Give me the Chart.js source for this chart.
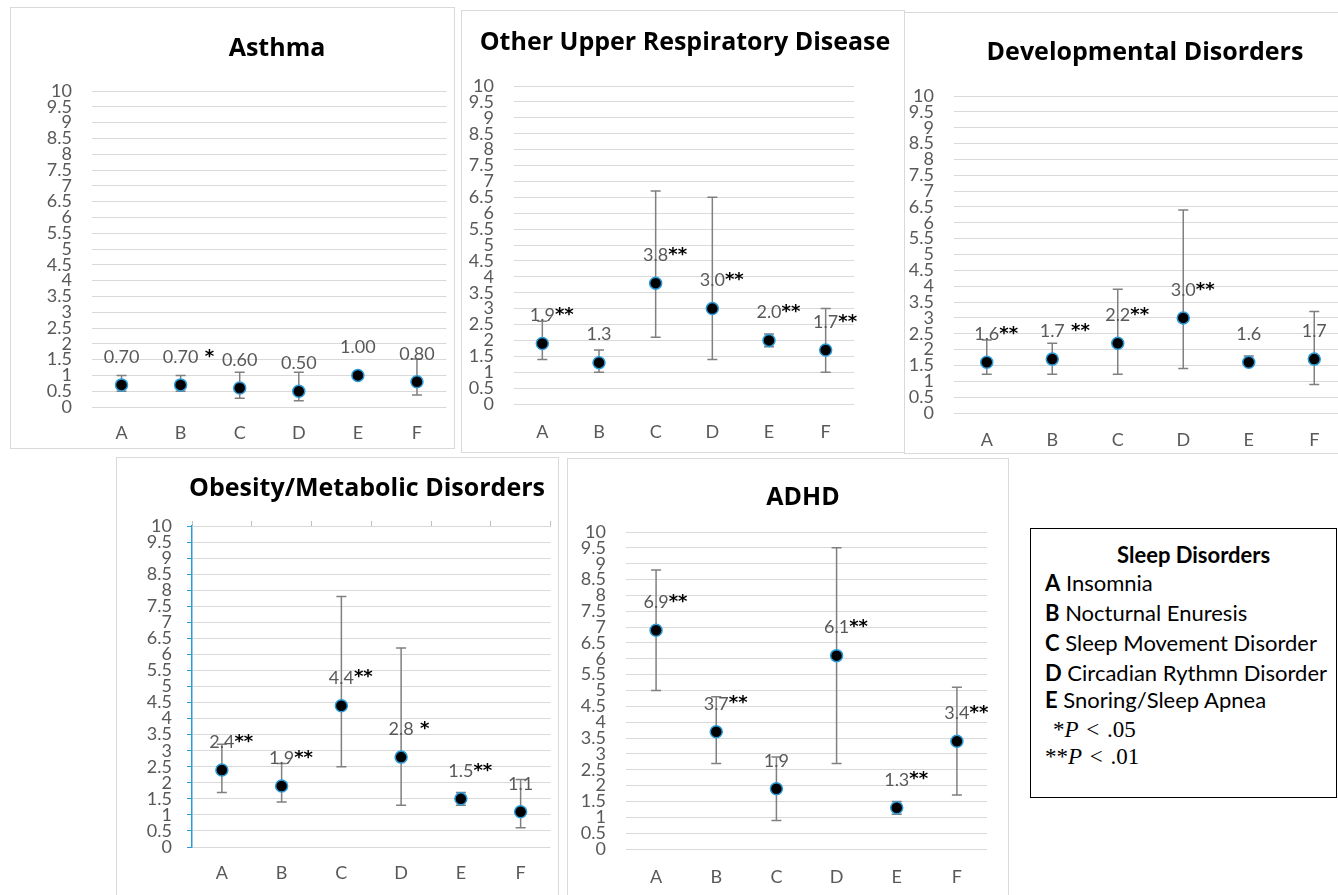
<!DOCTYPE html>
<html>
<head>
<meta charset="utf-8">
<script src="https://cdn.jsdelivr.net/npm/chart.js@4.4.0/dist/chart.umd.min.js"></script>
<style>
  html, body { margin: 0; padding: 0; background: #fff; }
  body { width: 1338px; height: 895px; overflow: hidden; position: relative; font-family: Lato, sans-serif; }
  .panel { position: absolute; border: 1px solid #d9d9d9; box-sizing: border-box; background: #fff; }
  .panel canvas { position: absolute; left: 0; top: 0; }
  #legend { position: absolute; left: 1030px; top: 528px; width: 307px; height: 270px; border: 1px solid #000; box-sizing: border-box; background: #fff; }
  #legend div { position: absolute; white-space: nowrap; line-height: 26px; font-size: 22px; color: #000; }
  #legend b { font-weight: bold; }
  #legend .p { font-family: "Liberation Serif", serif; font-size: 23px; word-spacing: 2px; }
</style>
</head>
<body>

<div id="legend">
  <div style="left:86px;top:13px;"><b>Sleep Disorders</b></div>
  <div style="left:14px;top:41px;"><b>A</b> Insomnia</div>
  <div style="left:14px;top:71px;"><b>B</b> Nocturnal Enuresis</div>
  <div style="left:14px;top:101px;"><b>C</b> Sleep Movement Disorder</div>
  <div style="left:14px;top:131px;"><b>D</b> Circadian Rythmn Disorder</div>
  <div style="left:14px;top:158px;"><b>E</b> Snoring/Sleep Apnea</div>
  <div class="p" style="left:22px;top:188px;">*<i>P</i> &lt; .05</div>
  <div class="p" style="left:14px;top:215px;">**<i>P</i> &lt; .01</div>
</div>

<script>
const categories = ['A', 'B', 'C', 'D', 'E', 'F'];

// Asthma
const asthmaMean = [0.7, 0.7, 0.6, 0.5, 1.0, 0.8];
const asthmaLow  = [0.5, 0.5, 0.28, 0.2, 0.97, 0.38];
const asthmaHigh = [1.0, 1.0, 1.1, 1.1, 1.03, 1.52];
const asthmaSig  = ['', ' *', '', '', '', ''];

// Other upper respiratory disease
const respMean = [1.9, 1.3, 3.8, 3.0, 2.0, 1.7];
const respLow  = [1.4, 1.0, 2.1, 1.4, 1.8, 1.0];
const respHigh = [2.6, 1.7, 6.7, 6.5, 2.2, 3.0];
const respSig  = ['**', '', '**', '**', '**', '**'];

// Developmental disorders
const devMean = [1.6, 1.7, 2.2, 3.0, 1.6, 1.7];
const devLow  = [1.22, 1.22, 1.22, 1.4, 1.5, 0.9];
const devHigh = [2.3, 2.2, 3.9, 6.4, 1.8, 3.2];
const devSig  = ['**', ' **', '**', '**', '', ''];

// Obesity / metabolic disorders
const obesMean = [2.4, 1.9, 4.4, 2.8, 1.5, 1.1];
const obesLow  = [1.7, 1.4, 2.5, 1.3, 1.3, 0.6];
const obesHigh = [3.2, 2.6, 7.8, 6.2, 1.7, 2.1];
const obesSig  = ['**', '**', '**', ' *', '**', ''];

// ADHD
const adhdMean = [6.9, 3.7, 1.9, 6.1, 1.3, 3.4];
const adhdLow  = [5.0, 2.7, 0.9, 2.7, 1.1, 1.7];
const adhdHigh = [8.8, 4.8, 2.9, 9.5, 1.5, 5.1];
const adhdSig  = ['**', '**', '', '**', '**', '**'];

const GREY_TEXT = '#595959';
const GRID = '#d9d9d9';
const BLUE = '#2a9bd8';

// error bars drawn behind the markers
const errorBars = {
  id: 'errorBars',
  beforeDatasetsDraw(chart) {
    const { ctx, scales: { x, y } } = chart;
    const ds = chart.data.datasets[0];
    const cap = 5;
    ctx.save();
    ctx.strokeStyle = '#808080';
    ctx.lineWidth = 1.5;
    ds.errLow.forEach((lo, i) => {
      const px = x.getPixelForValue(i);
      const top = y.getPixelForValue(ds.errHigh[i]);
      const bot = y.getPixelForValue(lo);
      ctx.beginPath();
      ctx.moveTo(px, top); ctx.lineTo(px, bot);
      ctx.moveTo(px - cap, top); ctx.lineTo(px + cap, top);
      ctx.moveTo(px - cap, bot); ctx.lineTo(px + cap, bot);
      ctx.stroke();
    });
    ctx.restore();
  }
};

// value labels above each marker, with significance stars
const valueLabels = {
  id: 'valueLabels',
  afterDatasetsDraw(chart) {
    const { ctx } = chart;
    const ds = chart.data.datasets[0];
    const meta = chart.getDatasetMeta(0);
    ctx.save();
    ctx.textBaseline = 'middle';
    meta.data.forEach((pt, i) => {
      const txt = ds.data[i].toFixed(ds.digits);
      const ly = pt.y - 28;
      ctx.font = '18px Lato';
      ctx.fillStyle = GREY_TEXT;
      ctx.textAlign = 'center';
      ctx.fillText(txt, pt.x, ly);
      const w = ctx.measureText(txt).width;
      if (ds.sig[i]) {
        ctx.font = 'bold 18px "DejaVu Sans"';
        ctx.fillStyle = '#000';
        ctx.textAlign = 'left';
        ctx.fillText(ds.sig[i], pt.x + w / 2, ly);
      }
    });
    ctx.restore();
  }
};

const panelTitle = {
  id: 'panelTitle',
  afterDraw(chart, args, opts) {
    const { ctx } = chart;
    ctx.save();
    ctx.font = 'bold 25px "Open Sans"';
    ctx.fillStyle = '#000';
    ctx.textAlign = 'center';
    ctx.textBaseline = 'middle';
    ctx.fillText(opts.text, opts.x, opts.y);
    ctx.restore();
  }
};

function makePanel(p) {
  const div = document.createElement('div');
  div.className = 'panel';
  div.style.left = p.box.x + 'px';
  div.style.top = p.box.y + 'px';
  div.style.width = p.box.w + 'px';
  div.style.height = p.box.h + 'px';
  const canvas = document.createElement('canvas');
  const cx = p.box.x + 1, cy = p.box.y + 1;
  const cw = p.box.w - 2, ch = p.box.h - 2;
  canvas.width = cw; canvas.height = ch;
  canvas.style.width = cw + 'px'; canvas.style.height = ch + 'px';
  div.appendChild(canvas);
  document.body.appendChild(div);

  const topAxisH = p.blueAxis ? 5 : 0;
  const scales = {
    x: {
      type: 'category',
      offset: true,
      grid: { display: false, drawTicks: false },
      border: { display: false },
      ticks: { color: GREY_TEXT, font: { family: 'Lato', size: 18 }, padding: p.catY - p.plot.b - 10.8 },
      afterFit: (s) => { s.height = cy + ch - p.plot.b; }
    },
    y: {
      min: 0,
      max: 10,
      grid: {
        color: GRID,
        lineWidth: 1,
        drawTicks: !!p.blueAxis,
        tickLength: 5,
        tickColor: BLUE
      },
      border: p.blueAxis ? { display: true, color: BLUE, width: 1.5 } : { display: false },
      ticks: {
        stepSize: 0.5,
        autoSkip: false,
        color: GREY_TEXT,
        font: { family: 'Lato', size: 18 },
        padding: p.blueAxis ? 15 : 20,
        callback: (v) => String(v)
      },
      afterFit: (s) => { s.width = p.plot.l - cx; }
    }
  };
  if (p.blueAxis) {
    scales.x2 = {
      type: 'category',
      position: 'top',
      offset: true,
      ticks: { display: false },
      grid: { drawOnChartArea: false, offset: true, tickLength: 5, color: '#bfbfbf' },
      border: { display: true, color: GRID },
      afterFit: (s) => { s.height = topAxisH; }
    };
  }

  new Chart(canvas, {
    type: 'line',
    data: {
      labels: categories,
      datasets: [{
        data: p.mean,
        errLow: p.low,
        errHigh: p.high,
        sig: p.sig,
        digits: p.digits,
        showLine: false,
        pointRadius: 6,
        pointHoverRadius: 6,
        pointBackgroundColor: '#000',
        pointBorderColor: BLUE,
        pointBorderWidth: 1.5
      }]
    },
    options: {
      responsive: false,
      animation: false,
      layout: {
        padding: { left: 0, top: p.plot.t - cy - topAxisH, right: cx + cw - p.plot.r, bottom: 0 }
      },
      plugins: {
        legend: { display: false },
        tooltip: { enabled: false },
        panelTitle: { text: p.title, x: p.titleAt.x - cx, y: p.titleAt.y - cy }
      },
      scales
    },
    plugins: [errorBars, valueLabels, panelTitle]
  });
}

makePanel({
  title: 'Asthma', mean: asthmaMean, low: asthmaLow, high: asthmaHigh, sig: asthmaSig, digits: 2,
  box: { x: 10, y: 7, w: 445, h: 442 }, plot: { l: 92, r: 453, t: 91, b: 407 },
  titleAt: { x: 277, y: 49 }, catY: 433
});
makePanel({
  title: 'Other Upper Respiratory Disease', mean: respMean, low: respLow, high: respHigh, sig: respSig, digits: 1,
  box: { x: 461, y: 10, w: 444, h: 443 }, plot: { l: 514, r: 854, t: 86, b: 404 },
  titleAt: { x: 685, y: 43 }, catY: 432
});
makePanel({
  title: 'Developmental Disorders', mean: devMean, low: devLow, high: devHigh, sig: devSig, digits: 1,
  box: { x: 904, y: 12, w: 460, h: 442 }, plot: { l: 954, r: 1347, t: 96, b: 413 },
  titleAt: { x: 1145, y: 53 }, catY: 440
});
makePanel({
  title: 'Obesity/Metabolic Disorders', mean: obesMean, low: obesLow, high: obesHigh, sig: obesSig, digits: 1,
  box: { x: 116, y: 457, w: 443, h: 450 }, plot: { l: 192, r: 555, t: 526, b: 847 },
  titleAt: { x: 367, y: 489 }, catY: 873, blueAxis: true
});
makePanel({
  title: 'ADHD', mean: adhdMean, low: adhdLow, high: adhdHigh, sig: adhdSig, digits: 1,
  box: { x: 567, y: 458, w: 442, h: 450 }, plot: { l: 626, r: 987, t: 532, b: 849 },
  titleAt: { x: 803, y: 498 }, catY: 877
});
</script>
</body>
</html>
